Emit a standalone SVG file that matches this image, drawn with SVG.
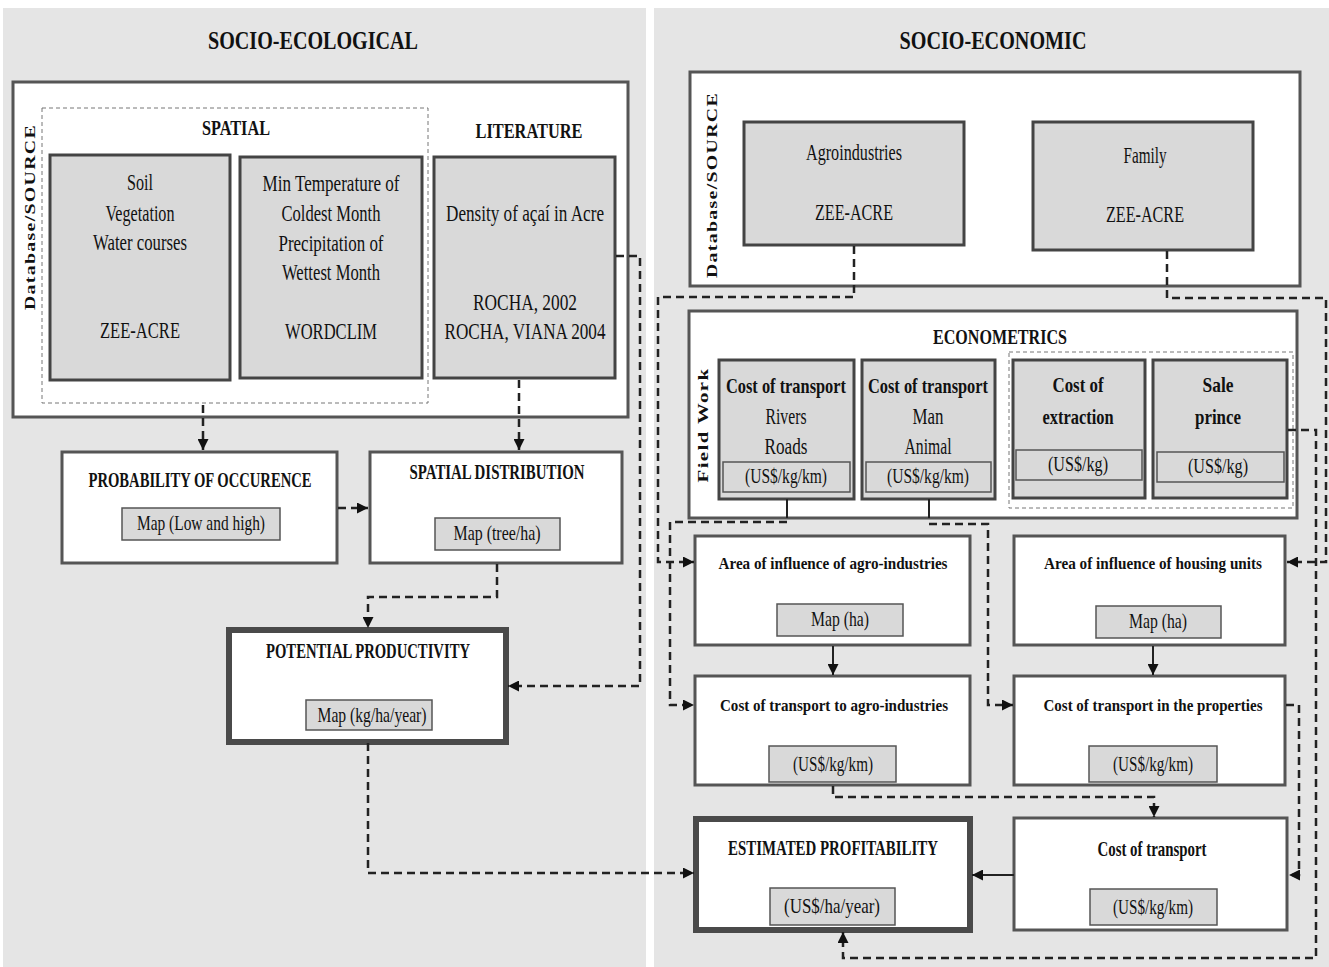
<svg xmlns="http://www.w3.org/2000/svg" width="1329" height="967" viewBox="0 0 1329 967">
<style>
text{font-family:"Liberation Serif","Times New Roman",serif;fill:#111;dominant-baseline:central;text-anchor:middle;}
.h{font-size:26px;font-weight:bold;}
.sec{font-size:22px;font-weight:bold;}
.t{font-size:23px;}
.b{font-size:21px;font-weight:bold;}
.bl{font-size:17.5px;font-weight:bold;}
.s{font-size:21px;}
.v{font-size:15px;font-weight:bold;letter-spacing:1px;}
.panel{fill:#e5e5e5;}
.frame{fill:#fff;stroke:#555;stroke-width:3;}
.gbox{fill:#d9d9d9;stroke:#444;stroke-width:3;}
.lbl{fill:#d9d9d9;stroke:#555;stroke-width:1.5;}
.node{fill:#fff;stroke:#555;stroke-width:3;}
.thick{fill:#fff;stroke:#4a4a4a;stroke-width:6;}
.grp{fill:none;stroke:#777;stroke-width:1;stroke-dasharray:4,3;}
.dash{fill:none;stroke:#222;stroke-width:2.5;stroke-dasharray:8,5;}
.solid{fill:none;stroke:#222;stroke-width:2;}
</style>
<defs>
<marker id="ah" viewBox="0 0 10 10" refX="10" refY="5" markerWidth="11" markerHeight="11" markerUnits="userSpaceOnUse" orient="auto">
<path d="M0,0 L10,5 L0,10 z" fill="#111"/>
</marker>
</defs>
<rect width="1329" height="967" fill="#fff"/>
<rect class="panel" x="3" y="8" width="643" height="959"/>
<rect class="panel" x="654" y="8" width="675" height="959"/>
<text class="h" x="313" y="40" textLength="210" lengthAdjust="spacingAndGlyphs">SOCIO-ECOLOGICAL</text>
<text class="h" x="993" y="40" textLength="187" lengthAdjust="spacingAndGlyphs">SOCIO-ECONOMIC</text>

<g id="left-database">
<rect class="frame" x="13" y="82" width="615" height="335"/>
<text class="v" transform="translate(30,217) rotate(-90)" textLength="186" lengthAdjust="spacingAndGlyphs">Database/SOURCE</text>
<rect class="grp" x="42" y="108" width="386" height="295"/>
<text class="sec" x="236" y="127" textLength="68" lengthAdjust="spacingAndGlyphs">SPATIAL</text>
<text class="sec" x="529" y="130" textLength="107" lengthAdjust="spacingAndGlyphs">LITERATURE</text>
</g>
<g id="soil">
<rect class="gbox" x="50" y="155" width="180" height="225"/>
<text class="t" x="140" y="182" textLength="26" lengthAdjust="spacingAndGlyphs">Soil</text>
<text class="t" x="140" y="213" textLength="69" lengthAdjust="spacingAndGlyphs">Vegetation</text>
<text class="t" x="140" y="242" textLength="94" lengthAdjust="spacingAndGlyphs">Water courses</text>
<text class="t" x="140" y="330" textLength="80" lengthAdjust="spacingAndGlyphs">ZEE-ACRE</text>
</g>
<g id="climate">
<rect class="gbox" x="240" y="157" width="182" height="221"/>
<text class="t" x="331" y="183" textLength="137" lengthAdjust="spacingAndGlyphs">Min Temperature  of</text>
<text class="t" x="331" y="213" textLength="99" lengthAdjust="spacingAndGlyphs">Coldest Month</text>
<text class="t" x="331" y="243" textLength="105" lengthAdjust="spacingAndGlyphs">Precipitation  of</text>
<text class="t" x="331" y="272" textLength="98" lengthAdjust="spacingAndGlyphs">Wettest Month</text>
<text class="t" x="331" y="331" textLength="92" lengthAdjust="spacingAndGlyphs">WORDCLIM</text>
</g>
<g id="density">
<rect class="gbox" x="434" y="157" width="181" height="221"/>
<text class="t" x="525" y="213" textLength="158" lengthAdjust="spacingAndGlyphs">Density  of açaí in Acre</text>
<text class="t" x="525" y="302" textLength="104" lengthAdjust="spacingAndGlyphs">ROCHA, 2002</text>
<text class="t" x="525" y="331" textLength="161" lengthAdjust="spacingAndGlyphs">ROCHA, VIANA 2004</text>
</g>
<g id="probability">
<rect class="node" x="62" y="452" width="275" height="111"/>
<text class="b" x="200" y="480" textLength="223" lengthAdjust="spacingAndGlyphs">PROBABILITY  OF OCCURENCE</text>
<rect class="lbl" x="122" y="508" width="158" height="32"/>
<text class="s" x="201" y="523" textLength="128" lengthAdjust="spacingAndGlyphs">Map (Low and high)</text>
</g>
<g id="spatial-distribution">
<rect class="node" x="370" y="452" width="252" height="111"/>
<text class="b" x="497" y="472" textLength="175" lengthAdjust="spacingAndGlyphs">SPATIAL DISTRIBUTION</text>
<rect class="lbl" x="435" y="518" width="125" height="32"/>
<text class="s" x="497" y="533" textLength="87" lengthAdjust="spacingAndGlyphs">Map (tree/ha)</text>
</g>
<g id="potential-productivity">
<rect class="thick" x="229" y="630" width="277" height="112"/>
<text class="b" x="368" y="651" textLength="204" lengthAdjust="spacingAndGlyphs">POTENTIAL  PRODUCTIVITY</text>
<rect class="lbl" x="306" y="700" width="126" height="30"/>
<text class="s" x="372" y="715" textLength="109" lengthAdjust="spacingAndGlyphs">Map (kg/ha/year)</text>
</g>

<g id="right-database">
<rect class="frame" x="690" y="72" width="610" height="214"/>
<text class="v" transform="translate(712,185) rotate(-90)" textLength="186" lengthAdjust="spacingAndGlyphs">Database/SOURCE</text>
</g>
<g id="agroindustries">
<rect class="gbox" x="744" y="122" width="220" height="123"/>
<text class="t" x="854" y="152" textLength="96" lengthAdjust="spacingAndGlyphs">Agroindustries</text>
<text class="t" x="854" y="212" textLength="78" lengthAdjust="spacingAndGlyphs">ZEE-ACRE</text>
</g>
<g id="family">
<rect class="gbox" x="1033" y="122" width="220" height="128"/>
<text class="t" x="1145" y="155" textLength="43" lengthAdjust="spacingAndGlyphs">Family</text>
<text class="t" x="1145" y="214" textLength="78" lengthAdjust="spacingAndGlyphs">ZEE-ACRE</text>
</g>
<g id="econometrics">
<rect class="frame" x="689" y="311" width="608" height="207"/>
<text class="sec" x="1000" y="336" textLength="134" lengthAdjust="spacingAndGlyphs">ECONOMETRICS</text>
<text class="v" transform="translate(703,425) rotate(-90)" textLength="115" lengthAdjust="spacingAndGlyphs">Field Work</text>
<rect class="grp" x="1009" y="352" width="284" height="156"/>
</g>
<g id="cost-rivers">
<rect class="gbox" x="719" y="360" width="135" height="139"/>
<text class="b" x="786" y="386" textLength="120" lengthAdjust="spacingAndGlyphs">Cost of transport</text>
<text class="t" x="786" y="416" textLength="41" lengthAdjust="spacingAndGlyphs">Rivers</text>
<text class="t" x="786" y="446" textLength="43" lengthAdjust="spacingAndGlyphs">Roads</text>
<rect class="lbl" x="723" y="462" width="127" height="30"/>
<text class="s" x="786" y="476" textLength="82" lengthAdjust="spacingAndGlyphs">(US$/kg/km)</text>
</g>
<g id="cost-man">
<rect class="gbox" x="862" y="360" width="133" height="139"/>
<text class="b" x="928" y="386" textLength="120" lengthAdjust="spacingAndGlyphs">Cost of transport</text>
<text class="t" x="928" y="416" textLength="31" lengthAdjust="spacingAndGlyphs">Man</text>
<text class="t" x="928" y="446" textLength="47" lengthAdjust="spacingAndGlyphs">Animal</text>
<rect class="lbl" x="866" y="462" width="125" height="30"/>
<text class="s" x="928" y="476" textLength="82" lengthAdjust="spacingAndGlyphs">(US$/kg/km)</text>
</g>
<g id="cost-extraction">
<rect class="gbox" x="1013" y="360" width="132" height="138"/>
<text class="b" x="1078" y="385" textLength="51" lengthAdjust="spacingAndGlyphs">Cost of</text>
<text class="b" x="1078" y="417" textLength="71" lengthAdjust="spacingAndGlyphs">extraction</text>
<rect class="lbl" x="1016" y="450" width="126" height="30"/>
<text class="s" x="1078" y="464" textLength="60" lengthAdjust="spacingAndGlyphs">(US$/kg)</text>
</g>
<g id="sale-price">
<rect class="gbox" x="1153" y="360" width="134" height="138"/>
<text class="b" x="1218" y="385" textLength="31" lengthAdjust="spacingAndGlyphs">Sale</text>
<text class="b" x="1218" y="417" textLength="46" lengthAdjust="spacingAndGlyphs">prince</text>
<rect class="lbl" x="1157" y="452" width="127" height="30"/>
<text class="s" x="1218" y="466" textLength="60" lengthAdjust="spacingAndGlyphs">(US$/kg)</text>
</g>
<g id="area-agro">
<rect class="node" x="695" y="536" width="275" height="109"/>
<text class="bl" x="833" y="563" textLength="229" lengthAdjust="spacingAndGlyphs">Area of influence of agro-industries</text>
<rect class="lbl" x="777" y="604" width="126" height="32"/>
<text class="s" x="840" y="619" textLength="58" lengthAdjust="spacingAndGlyphs">Map (ha)</text>
</g>
<g id="area-housing">
<rect class="node" x="1014" y="536" width="271" height="109"/>
<text class="bl" x="1153" y="563" textLength="218" lengthAdjust="spacingAndGlyphs">Area of influence of housing units</text>
<rect class="lbl" x="1096" y="606" width="125" height="32"/>
<text class="s" x="1158" y="621" textLength="58" lengthAdjust="spacingAndGlyphs">Map (ha)</text>
</g>
<g id="cost-agro">
<rect class="node" x="695" y="676" width="275" height="109"/>
<text class="bl" x="834" y="705" textLength="228" lengthAdjust="spacingAndGlyphs">Cost of transport to agro-industries</text>
<rect class="lbl" x="769" y="746" width="127" height="36"/>
<text class="s" x="833" y="764" textLength="80" lengthAdjust="spacingAndGlyphs">(US$/kg/km)</text>
</g>
<g id="cost-properties">
<rect class="node" x="1014" y="676" width="271" height="109"/>
<text class="bl" x="1153" y="705" textLength="219" lengthAdjust="spacingAndGlyphs">Cost of transport in the properties</text>
<rect class="lbl" x="1089" y="746" width="128" height="36"/>
<text class="s" x="1153" y="764" textLength="80" lengthAdjust="spacingAndGlyphs">(US$/kg/km)</text>
</g>
<g id="estimated-profitability">
<rect class="thick" x="696" y="819" width="274" height="111"/>
<text class="b" x="833" y="848" textLength="210" lengthAdjust="spacingAndGlyphs">ESTIMATED  PROFITABILITY</text>
<rect class="lbl" x="770" y="888" width="125" height="37"/>
<text class="s" x="832" y="906" textLength="96" lengthAdjust="spacingAndGlyphs">(US$/ha/year)</text>
</g>
<g id="cost-transport">
<rect class="node" x="1014" y="818" width="273" height="112"/>
<text class="b" x="1152" y="849" textLength="109" lengthAdjust="spacingAndGlyphs">Cost of transport</text>
<rect class="lbl" x="1090" y="889" width="127" height="36"/>
<text class="s" x="1153" y="907" textLength="80" lengthAdjust="spacingAndGlyphs">(US$/kg/km)</text>
</g>

<g id="connectors">
<path class="dash" d="M203,405 V450" marker-end="url(#ah)"/>
<path class="dash" d="M519,380 V450" marker-end="url(#ah)"/>
<path class="dash" d="M338,508 H368" marker-end="url(#ah)"/>
<path class="dash" d="M497,564 V597 H368 V628" marker-end="url(#ah)"/>
<path class="dash" d="M616,256 H640 V686 H508" marker-end="url(#ah)"/>
<path class="dash" d="M368,743 V873 H694" marker-end="url(#ah)"/>
<path class="dash" d="M854,246 V297 H658 V562 H694" marker-end="url(#ah)"/>
<path class="solid" d="M787,499 V518"/>
<path class="dash" d="M787,522 H670 V705 H694" marker-end="url(#ah)"/>
<path class="solid" d="M929,499 V518"/>
<path class="dash" d="M929,524 H988 V705 H1013" marker-end="url(#ah)"/>
<path class="dash" d="M1167,251 V298 H1326 V562 H1287" marker-end="url(#ah)"/>
<path class="dash" d="M1288,430 H1316 V958 H843 V932" marker-end="url(#ah)"/>
<path class="dash" d="M1286,705 H1299 V875 H1289" marker-end="url(#ah)"/>
<path class="dash" d="M833,786 V797 H1154 V817" marker-end="url(#ah)"/>
<path class="solid" d="M1014,875 H972" marker-end="url(#ah)"/>
<path class="solid" d="M833,646 V675" marker-end="url(#ah)"/>
<path class="solid" d="M1153,646 V675" marker-end="url(#ah)"/>
</g>
</svg>
